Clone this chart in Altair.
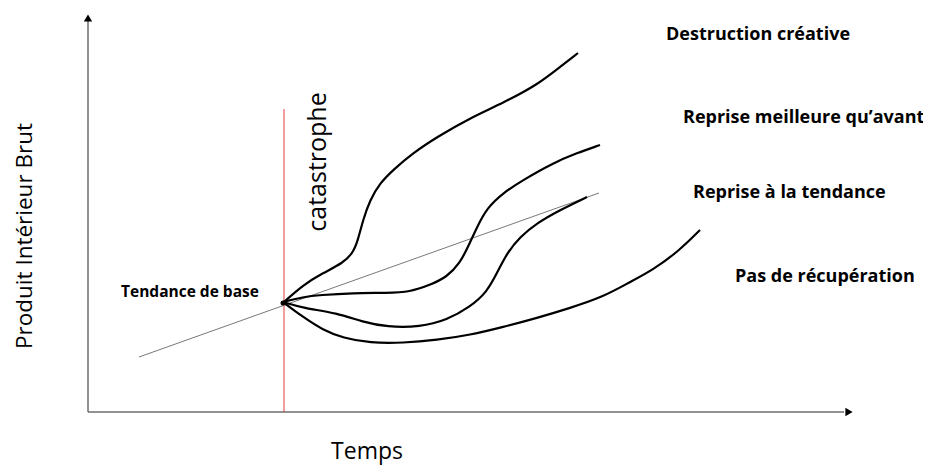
import altair as alt
import pandas as pd

# Coordinates: t = time units from origin, g = GDP units from origin
destruction_t = [196, 215, 235, 255, 265, 270, 275, 282, 292, 305, 325, 349, 382, 415, 449, 472, 490]
destruction_g = [110, 127, 139, 149, 159, 172, 192, 212, 229, 242, 259, 275, 294, 309, 327, 345, 359]

meilleure_t = [195, 215, 232, 265, 299, 322, 342, 359, 372, 380, 389, 399, 415, 435, 465, 489, 512]
meilleure_g = [110, 115, 117, 119, 119, 120, 127, 135, 149, 165, 185, 204, 219, 232, 249, 259, 267]

tendance_t = [195, 215, 249, 275, 299, 332, 359, 382, 399, 409, 419, 432, 449, 472, 499]
tendance_g = [110, 104, 99, 90, 85, 85, 92, 105, 120, 139, 159, 175, 189, 202, 215]

pas_t = [195, 215, 235, 255, 282, 315, 349, 382, 415, 449, 482, 515, 542, 565, 592, 612]
pas_g = [110, 95, 82, 74, 69, 69, 72, 77, 85, 94, 104, 115, 130, 142, 162, 182]

trend_t = [51, 511]
trend_g = [55, 219]

catastrophe_t = 196
catastrophe_g = 109

scenario_names = ["Destruction créative", "Reprise meilleure qu’avant",
                  "Reprise à la tendance", "Pas de récupération"]

FONT = "Open Sans"

rows = []
for name, ts, gs in zip(scenario_names,
                        [destruction_t, meilleure_t, tendance_t, pas_t],
                        [destruction_g, meilleure_g, tendance_g, pas_g]):
    for i, (t, g) in enumerate(zip(ts, gs)):
        rows.append({"scenario": name, "t": t, "g": g, "order": i})
curves_df = pd.DataFrame(rows)

xs = alt.Scale(domain=[-80, 835], nice=False, zero=False)
ys = alt.Scale(domain=[-53, 404], nice=False, zero=False)

def X(field="t"):
    return alt.X(f"{field}:Q", scale=xs, axis=None)

def Y(field="g"):
    return alt.Y(f"{field}:Q", scale=ys, axis=None)

# axes
axes_df = pd.DataFrame({"t": [0, 0], "t2": [0, 756], "g": [0, 0], "g2": [393, 0]})
axes = alt.Chart(axes_df).mark_rule(color="#6e6e6e", strokeWidth=1.5).encode(
    x=X(), x2="t2:Q", y=Y(), y2="g2:Q")

arrows_df = pd.DataFrame({"t": [0, 761], "g": [394, 0],
                          "shape": ["triangle-up", "triangle-right"]})
arrows = alt.Chart(arrows_df).mark_point(filled=True, color="black", size=70, opacity=1).encode(
    x=X(), y=Y(), shape=alt.Shape("shape:N", scale=None))

trend_df = pd.DataFrame({"t": trend_t, "g": trend_g})
trend = alt.Chart(trend_df).mark_line(color="#555555", strokeWidth=0.8).encode(x=X(), y=Y())

cat_df = pd.DataFrame({"t": [catastrophe_t], "t2": [catastrophe_t], "g": [0], "g2": [303]})
cat_rule = alt.Chart(cat_df).mark_rule(color="#e03a3a", strokeWidth=1).encode(
    x=X(), x2="t2:Q", y=Y(), y2="g2:Q")

curves = alt.Chart(curves_df).mark_line(color="black", strokeWidth=2.2, interpolate="basis").encode(
    x=X(), y=Y(), detail="scenario:N", order="order:Q")

dot_df = pd.DataFrame({"t": [catastrophe_t - 1], "g": [catastrophe_g]})
dot = alt.Chart(dot_df).mark_point(filled=True, color="black", size=25, opacity=1).encode(x=X(), y=Y())

labels_df = pd.DataFrame({
    "t": [578, 595, 605, 647],
    "g": [377, 294, 219, 135],
    "label": scenario_names,
})
labels = alt.Chart(labels_df).mark_text(align="left", baseline="middle", font=FONT,
                                        fontWeight="bold", fontSize=18, color="black").encode(
    x=X(), y=Y(), text="label:N")

base_lbl = alt.Chart(pd.DataFrame({"t": [33], "g": [120], "label": ["Tendance de base"]})).mark_text(
    align="left", baseline="middle", font=FONT, fontWeight="bold", fontSize=15.5, color="black").encode(
    x=X(), y=Y(), text="label:N")

cat_lbl = alt.Chart(pd.DataFrame({"t": [230], "g": [250], "label": ["catastrophe"]})).mark_text(
    align="center", baseline="middle", font=FONT, fontSize=25, angle=270, color="black").encode(
    x=X(), y=Y(), text="label:N")

x_title = alt.Chart(pd.DataFrame({"t": [279], "g": [-47], "label": ["Temps"]})).mark_text(
    align="center", baseline="alphabetic", font=FONT, fontSize=23, color="black").encode(
    x=X(), y=Y(), text="label:N")

y_title = alt.Chart(pd.DataFrame({"t": [-63], "g": [176], "label": ["Produit Intérieur Brut"]})).mark_text(
    align="center", baseline="middle", font=FONT, fontSize=22.5, angle=270, color="black").encode(
    x=X(), y=Y(), text="label:N")

chart = alt.layer(axes, trend, cat_rule, curves, dot, arrows, labels, base_lbl, cat_lbl,
                  x_title, y_title).properties(
    width=915, height=457, autosize="none", padding=0
).configure_view(stroke=None)

chart.save("out.html", embed_options={"renderer": "svg", "actions": False})
